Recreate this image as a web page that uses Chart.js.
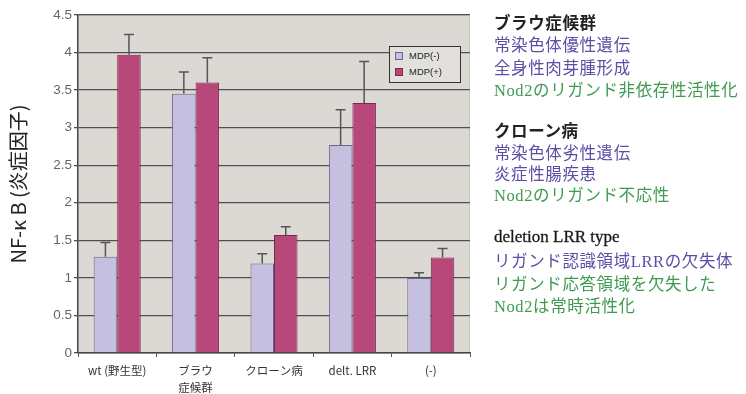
<!DOCTYPE html>
<html><head><meta charset="utf-8">
<script src="https://cdn.jsdelivr.net/npm/chart.js@4"></script>
<style>
html,body{margin:0;padding:0;background:#fff;}
#wrap{position:relative;width:746px;height:394px;}
#notes{position:absolute;left:494px;top:0;font-family:"Noto Sans CJK JP",sans-serif;font-size:16.5px;line-height:22px;white-space:nowrap;letter-spacing:0.6px;}
#notes div{height:22px;}
.h{color:#222;font-weight:bold;}
.p{color:#5b4fa5;}
.g{color:#3f9b50;}
.s{font-family:"Liberation Serif",serif;}
</style></head><body>
<div id="wrap">
<canvas id="c" width="746" height="394"></canvas>
<div id="notes">
<div class="h" style="position:absolute;top:11px">ブラウ症候群</div>
<div class="p" style="position:absolute;top:33px">常染色体優性遺伝</div>
<div class="p" style="position:absolute;top:56px">全身性肉芽腫形成</div>
<div class="g" style="position:absolute;top:78px"><span class="s">Nod2</span>のリガンド非依存性活性化</div>
<div class="h" style="position:absolute;top:119px">クローン病</div>
<div class="p" style="position:absolute;top:141px">常染色体劣性遺伝</div>
<div class="p" style="position:absolute;top:162px">炎症性腸疾患</div>
<div class="g" style="position:absolute;top:183px"><span class="s">Nod2</span>のリガンド不応性</div>
<div class="s" style="position:absolute;top:226px;letter-spacing:0;color:#1a1a1a;font-size:17px;-webkit-text-stroke:0.3px #1a1a1a">deletion LRR type</div>
<div class="p" style="position:absolute;top:249px">リガンド認識領域<span class="s">LRR</span>の欠失体</div>
<div class="g" style="position:absolute;top:272px">リガンド応答領域を欠失した</div>
<div class="g" style="position:absolute;top:294px"><span class="s">Nod2</span>は常時活性化</div>
</div>
</div>
<script>
const categories = ['wt (野生型)', ['ブラウ','症候群'], 'クローン病', 'delt. LRR', '(-)'];
const seriesNames = ['MDP(-)', 'MDP(+)'];
const mdpMinus = [1.28, 3.45, 1.19, 2.77, 1.00];
const mdpPlus  = [3.97, 3.60, 1.57, 3.33, 1.27];
const errMinus = [0.19, 0.29, 0.13, 0.47, 0.07];
const errPlus  = [0.27, 0.33, 0.11, 0.55, 0.12];
const yTicks = [0, 0.5, 1, 1.5, 2, 2.5, 3, 3.5, 4, 4.5];
const yTickLabels = ['0', '0.5', '1', '1.5', '2', '2.5', '3', '3.5', '4', '4.5'];
const yTitle = 'NF-κ B (炎症因子)';

const colMinus = '#c6c0e0', bdMinus = '#6a6488';
const colPlus = '#b9487a', bdPlus = '#7a2850';

const bgPlugin = {
  id: 'bg',
  beforeDraw(chart) {
    const {ctx, chartArea: a} = chart;
    ctx.save();
    ctx.fillStyle = '#dcd9d5';
    ctx.fillRect(a.left, a.top, a.right - a.left, a.bottom - a.top);
    ctx.strokeStyle = '#c4c2c0';
    ctx.lineWidth = 1;
    ctx.beginPath();
    ctx.moveTo(a.left, a.top + 0.5); ctx.lineTo(a.right - 0.5, a.top + 0.5); ctx.lineTo(a.right - 0.5, a.bottom);
    ctx.stroke();
    ctx.restore();
  }
};

const errPlugin = {
  id: 'errbars',
  afterDatasetsDraw(chart) {
    const {ctx} = chart;
    const y = chart.scales.y;
    const errs = [errMinus, errPlus];
    ctx.save();
    ctx.strokeStyle = '#555';
    ctx.lineWidth = 1.5;
    chart.data.datasets.forEach((ds, di) => {
      const meta = chart.getDatasetMeta(di);
      meta.data.forEach((bar, i) => {
        const v = ds.data[i];
        const top = y.getPixelForValue(v + errs[di][i]);
        const base = y.getPixelForValue(v);
        ctx.beginPath();
        ctx.moveTo(bar.x, base); ctx.lineTo(bar.x, top);
        ctx.moveTo(bar.x - 5, top); ctx.lineTo(bar.x + 5, top);
        ctx.stroke();
      });
    });
    ctx.restore();
  }
};

const legendPlugin = {
  id: 'boxLegend',
  afterDraw(chart) {
    const {ctx, chartArea: a} = chart;
    const x0 = a.right - 81, y0 = a.top + 31, w = 71, h = 36;
    ctx.save();
    ctx.fillStyle = '#e2e0dd';
    ctx.fillRect(x0, y0, w, h);
    ctx.strokeStyle = '#333';
    ctx.lineWidth = 1;
    ctx.strokeRect(x0 + 0.5, y0 + 0.5, w, h);
    const cols = [[colMinus, bdMinus], [colPlus, bdPlus]];
    ctx.font = '9.5px "Liberation Sans", sans-serif';
    ctx.textBaseline = 'middle';
    seriesNames.forEach((n, i) => {
      const cy = y0 + 10 + i * 16;
      ctx.fillStyle = cols[i][0];
      ctx.fillRect(x0 + 6, cy - 4, 8, 8);
      ctx.strokeStyle = cols[i][1];
      ctx.strokeRect(x0 + 6.5, cy - 3.5, 7, 7);
      ctx.fillStyle = '#222';
      ctx.fillText(n, x0 + 20, cy);
    });
    ctx.restore();
  }
};

new Chart(document.getElementById('c'), {
  type: 'bar',
  data: {
    labels: categories,
    datasets: [
      {label: seriesNames[0], data: mdpMinus, backgroundColor: colMinus, borderColor: bdMinus, borderWidth: 1, categoryPercentage: 0.6, barPercentage: 1.0},
      {label: seriesNames[1], data: mdpPlus, backgroundColor: colPlus, borderColor: bdPlus, borderWidth: 1, categoryPercentage: 0.6, barPercentage: 1.0}
    ]
  },
  options: {
    responsive: false,
    animation: false,
    layout: {padding: {top: 15, right: 276, left: 0, bottom: 0}},
    plugins: {legend: {display: false}, tooltip: {enabled: false}},
    scales: {
      x: {
        offset: true,
        grid: {display: true, drawOnChartArea: false, offset: true, tickLength: 4, color: '#555'},
        border: {color: '#444', width: 1.5},
        ticks: {color: '#333', font: {size: 11.5, family: '"Noto Sans CJK JP", sans-serif', lineHeight: 1.4}, padding: 6, maxRotation: 0, autoSkip: false},
        afterFit(s) { s.height = 41; }
      },
      y: {
        min: 0, max: 4.5,
        afterBuildTicks(s) { s.ticks = yTicks.map(v => ({value: v})); },
        grid: {color: '#505050', lineWidth: 1.3, tickLength: 4},
        border: {color: '#444', width: 1.5},
        ticks: {color: '#666', font: {size: 13.5, family: '"Liberation Sans", sans-serif'}, padding: 2,
          callback: (v, i) => yTickLabels[i]},
        title: {display: true, text: yTitle, color: '#222', font: {size: 20, family: '"Noto Sans CJK JP", sans-serif'}, padding: {top: 6, bottom: 2}},
        afterFit(s) { s.width = 78; }
      }
    }
  },
  plugins: [bgPlugin, errPlugin, legendPlugin]
});
</script>
</body></html>
